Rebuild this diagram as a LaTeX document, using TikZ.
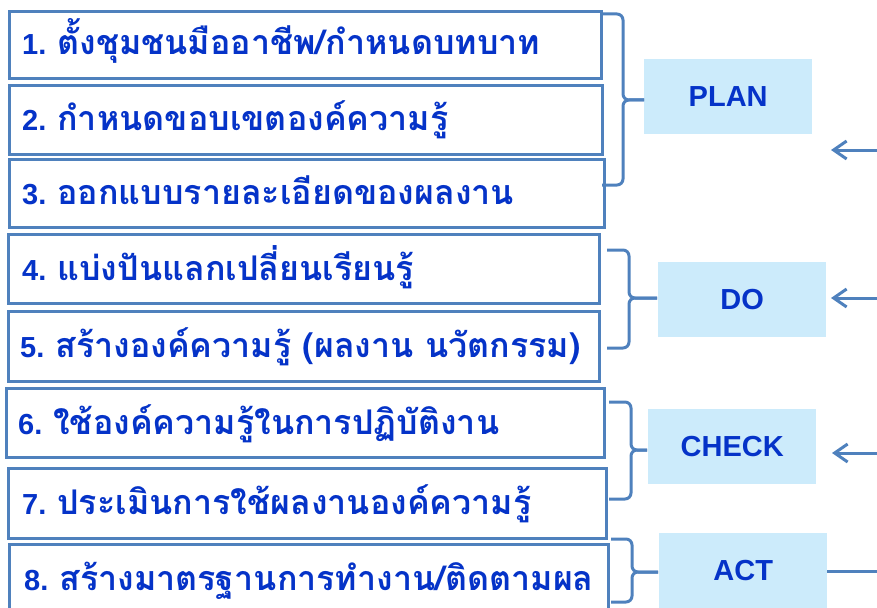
\documentclass[tikz,border=0pt]{standalone}
\usepackage{fontspec}
\setmainfont{Liberation Sans}
\newfontfamily\thaifont[Script=Thai]{Loma}
\newfontfamily\numfont{Liberation Sans}
\usetikzlibrary{arrows.meta}
\definecolor{edge}{HTML}{4F81BD}
\definecolor{ink}{HTML}{0533C8}
\definecolor{pale}{HTML}{CCEBFB}
\newcommand\stepno[1]{{\numfont\bfseries\fontsize{29}{30}\selectfont #1.}\hspace{11pt}}
\begin{document}
\begin{tikzpicture}[x=1pt,y=-1pt,
  box/.style={draw=edge, line width=3pt, fill=white, inner sep=0pt, anchor=north west},
  txt/.style={font=\thaifont\bfseries\fontsize{34}{38}\selectfont, text=ink, anchor=base west, inner sep=0pt},
  tag/.style={fill=pale, text=ink, font=\bfseries\fontsize{29}{32}\selectfont, inner sep=0pt,
    minimum width=168pt, minimum height=75pt, anchor=north west},
  conn/.style={draw=edge, line width=3pt, rounded corners=6pt},
  arr/.style={draw=edge, line width=3pt, -{Straight Barb[length=13pt, width=18pt, line width=3pt]}}]
\useasboundingbox (0,0) rectangle (877,607);
% step boxes
\node[box, minimum width=592pt, minimum height=67pt] (b1) at (8,10) {};
\node[box, minimum width=593pt, minimum height=69pt] (b2) at (8,84) {};
\node[box, minimum width=595pt, minimum height=68pt] (b3) at (8,158) {};
\node[box, minimum width=591pt, minimum height=69pt] (b4) at (7,233) {};
\node[box, minimum width=591pt, minimum height=70pt] (b5) at (7,310) {};
\node[box, minimum width=598pt, minimum height=69pt] (b6) at (5,387) {};
\node[box, minimum width=598pt, minimum height=70pt] (b7) at (7,467) {};
\node[box, minimum width=599pt, minimum height=80pt] (b8) at (8,543) {};
% texts
\node[txt] (t1) at (22,55) {\stepno{1}ตั้งชุมชนมืออาชีพ/กำหนดบทบาท};
\node[txt] (t2) at (22,131) {\stepno{2}กำหนดขอบเขตองค์ความรู้};
\node[txt] (t3) at (22,204) {\stepno{3}ออกแบบรายละเอียดของผลงาน};
\node[txt] (t4) at (22,280) {\stepno{4}แบ่งปันแลกเปลี่ยนเรียนรู้};
\node[txt] (t5) at (20,357) {\stepno{5}สร้างองค์ความรู้ (ผลงาน นวัตกรรม)};
\node[txt] (t6) at (18,434) {\stepno{6}ใช้องค์ความรู้ในการปฏิบัติงาน};
\node[txt] (t7) at (22,514) {\stepno{7}ประเมินการใช้ผลงานองค์ความรู้};
\node[txt] (t8) at (24,590) {\stepno{8}สร้างมาตรฐานการทำงาน/ติดตามผล};
% phase tags
\node[tag] (plan) at (644,59) {PLAN};
\node[tag] (do) at (658,262) {DO};
\node[tag] (check) at (648,409) {CHECK};
\node[tag] (act) at (659,533) {ACT};
% braces
\coordinate (pt) at (644,100);
\coordinate (dt) at (657,298);
\coordinate (ct) at (647,450);
\coordinate (at) at (658,572);
\draw[conn] (601,14) -| (623,100) -- (pt);
\draw[conn] (pt) -- (623,100) |- (602,185);
\draw[conn] (607,250) -| (629,298) -- (dt);
\draw[conn] (dt) -- (629,298) |- (607,348);
\draw[conn] (609,402) -| (631,450) -- (ct);
\draw[conn] (ct) -- (631,450) |- (609,499);
\draw[conn] (611,539) -| (632,572) -- (at);
\draw[conn] (at) -- (632,572) |- (611,602);
% cycle arrows
\coordinate (r1) at (880,150);
\coordinate (a1) at (831,150);
\coordinate (r2) at (880,298);
\coordinate (a2) at (831,298);
\coordinate (r3) at (880,453);
\coordinate (a3) at (832,453);
\coordinate (r4) at (880,571);
\draw[arr] (r1) -- (a1);
\draw[arr] (r2) -- (a2);
\draw[arr] (r3) -- (a3);
\draw[draw=edge, line width=3pt] (act.east |- r4) -- (r4);
\end{tikzpicture}
\end{document}
